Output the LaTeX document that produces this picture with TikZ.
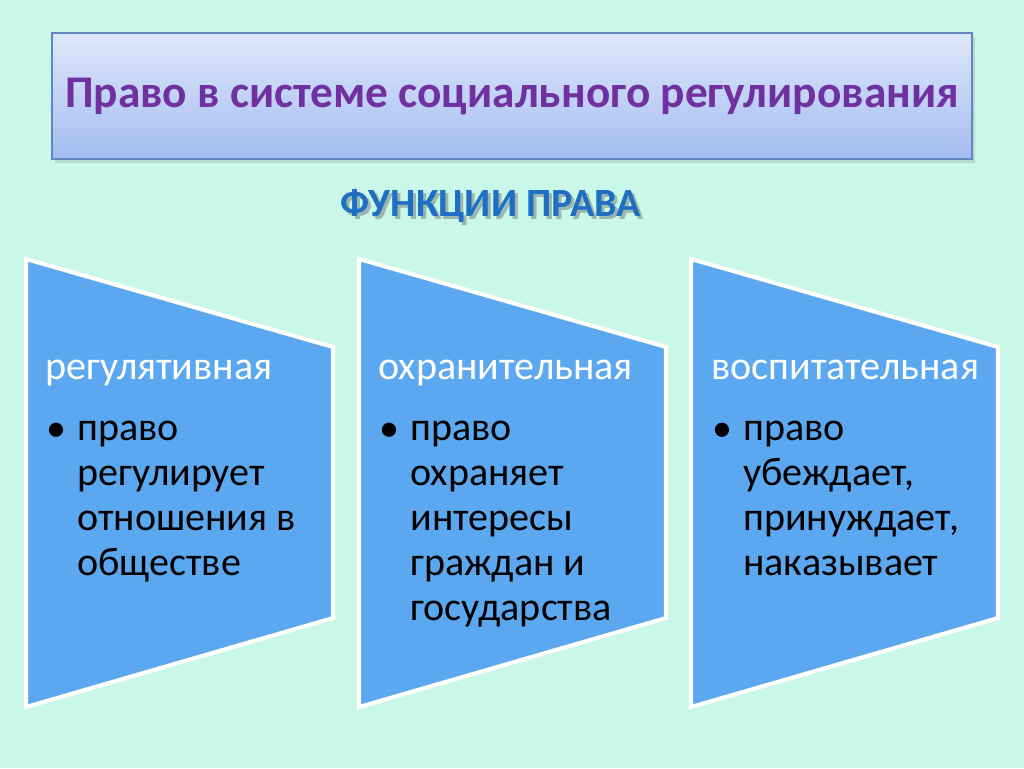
\documentclass[tikz,border=0pt]{standalone}
\usepackage{fontspec}
\setmainfont{Carlito}
\usetikzlibrary{positioning,shadows}

\definecolor{bgmint}{RGB}{202,248,232}
\definecolor{cardblue}{RGB}{91,168,240}
\definecolor{titleviolet}{RGB}{112,48,160}
\definecolor{headblue}{RGB}{30,110,196}
\definecolor{framegray}{RGB}{96,136,190}
\definecolor{glasstop}{RGB}{222,232,251}
\definecolor{glassbot}{RGB}{164,188,240}

\begin{document}
\begin{tikzpicture}[%
    x=0.02cm,
    y=-0.02cm,
    card/.style={%
      fill=cardblue,
      draw=white,
      line width=2.3pt,
      line join=miter
    },
    cardhead/.style={%
      anchor=base west,
      inner sep=0pt,
      text=white,
      font=\fontsize{22.8}{26}\selectfont
    },
    cardbody/.style={%
      anchor=north west,
      inner sep=0pt,
      align=left,
      text=black,
      font=\fontsize{22.8}{25.5}\selectfont
    },
    dot/.style={%
      anchor=base west,
      inner sep=0pt,
      font=\fontsize{22.8}{26}\selectfont
    }
  ]
    % background
    \fill[bgmint] (0,0) rectangle (1024,768);
    \useasboundingbox (0,0) rectangle (1024,768);

    % title
    \node[%
      draw=framegray,
      line width=0.6pt,
      top color=glasstop,
      bottom color=glassbot,
      minimum width=920*0.02cm,
      minimum height=126*0.02cm,
      drop shadow={opacity=0.25,shadow xshift=1.5pt,shadow yshift=-2.5pt},
      text=titleviolet,
      font=\bfseries\fontsize{25.8}{30}\selectfont
    ] (title) at (512,96) {Право в системе социального регулирования};

    \node[text=black!60,opacity=0.45,font=\bfseries\fontsize{22.8}{26}\selectfont]
      (subshadow) at (494,209) {ФУНКЦИИ ПРАВА};
    \node[text=headblue,font=\bfseries\fontsize{22.8}{26}\selectfont]
      (sub) at (491,206) {ФУНКЦИИ ПРАВА};

    % cards
    \draw[card] (26,259) -- (333,347) -- (333,618) -- (26,707) -- cycle;
    \draw[card] (359,259) -- (666,347) -- (666,618) -- (359,707) -- cycle;
    \draw[card] (691,259) -- (998,347) -- (998,618) -- (691,707) -- cycle;

    \node[cardhead] (h1) at (45,379)  {регулятивная};
    \node[cardhead] (h2) at (378,379) {охранительная};
    \node[cardhead] (h3) at (711,379) {воспитательная};

    \node[dot] (d1) at (46,441)  {\textbullet};
    \node[dot] (d2) at (379,441) {\textbullet};
    \node[dot] (d3) at (712,441) {\textbullet};

    \node[cardbody] (b1) at (77,421)  {право\\регулирует\\отношения в\\обществе};
    \node[cardbody] (b2) at (410,421) {право\\охраняет\\интересы\\граждан и\\государства};
    \node[cardbody] (b3) at (743,421) {право\\убеждает,\\принуждает,\\наказывает};
  \end{tikzpicture}
\end{document}
